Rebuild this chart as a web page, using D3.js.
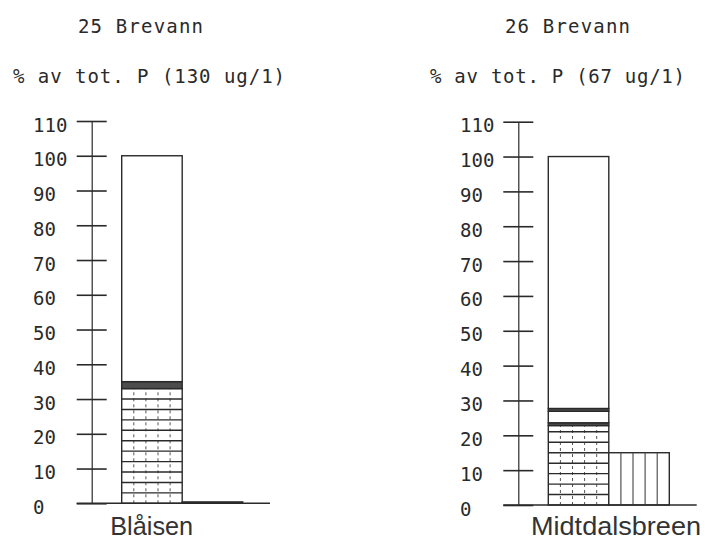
<!DOCTYPE html>
<html><head><meta charset="utf-8">
<script src="https://cdn.jsdelivr.net/npm/d3@7"></script>
<style>
html,body{margin:0;padding:0;background:#fff;}
svg{display:block;}
.plot{font-family:"DejaVu Sans Mono",monospace;fill:#2a2a2a;}
</style></head>
<body>
<svg id="chart" width="705" height="542"></svg>
<script>
// ---- data ----
const categories = ["Blåisen", "Midtdalsbreen"];
const titles = ["25 Brevann", "26 Brevann"];
const subtitles = ["% av tot. P (130 ug/1)", "% av tot. P (67 ug/1)"];
const tickValues = [0, 10, 20, 30, 40, 50, 60, 70, 80, 90, 100, 110];
const tickLabels = ["0", "10", "20", "30", "40", "50", "60", "70", "80", "90", "100", "110"];
const segmentKinds = ["rutet", "mørk", "tom", "mørk", "tom"];
const blaisenSegments = [33, 2, 0, 0, 65];
const midtdalSegments = [22.8, 0.8, 3.3, 0.8, 72.3];
const sideBarValues = [0.4, 15];
const gridStep = 3;

// ---- layout ----
const panels = [
  {axisX: 91.7, y0: 503.3, y110: 121, labelX: 33, titleX: 78, titleW: 125, subX: 13, subW: 272, catX: 151.7, catW: 83, segs: blaisenSegments, side: sideBarValues[0], baseEnd: 270},
  {axisX: 518.3, y0: 505, y110: 121.7, labelX: 460, titleX: 505, titleW: 125, subX: 430, subW: 255, catX: 616, catW: 170, segs: midtdalSegments, side: sideBarValues[1], baseEnd: 696.7}
];
const ink = "#2a2a2a";
const svg = d3.select("#chart");

panels.forEach((p, i) => {
  const y = d3.scaleLinear().domain([0, 110]).range([p.y0, p.y110]);
  const x = d3.scaleBand().domain(["stack", "side"]).range([p.axisX + 30, p.axisX + 30 + 121]).padding(0);
  const g = svg.append("g");
  const bw = x.bandwidth();

  // titles
  g.append("text").attr("class", "plot").attr("x", p.titleX).attr("y", 33)
    .attr("font-size", 19).attr("textLength", p.titleW).attr("lengthAdjust", "spacing").text(titles[i]);
  g.append("text").attr("class", "plot").attr("x", p.subX).attr("y", 83)
    .attr("font-size", 19).attr("textLength", p.subW).attr("lengthAdjust", "spacing").text(subtitles[i]);

  // axis
  const axis = d3.axisLeft(y).tickValues(tickValues).tickSize(0).tickFormat("");
  const ax = g.append("g").attr("transform", `translate(${p.axisX},0)`).call(axis);
  ax.select(".domain").attr("stroke", ink).attr("stroke-width", 1.2);
  ax.selectAll(".tick line").attr("x1", -15).attr("x2", 15).attr("stroke", ink).attr("stroke-width", 1.6);
  g.selectAll(".tlab").data(tickValues).join("text").attr("class", "plot")
    .attr("x", p.labelX).attr("y", d => y(d) + 10.5).attr("font-size", 19)
    .text((d, k) => tickLabels[k]);

  // stacked bar
  let acc = 0;
  const segs = p.segs.map((v, k) => { const s = {kind: segmentKinds[k], lo: acc, hi: acc + v}; acc += v; return s; }).filter(s => s.hi > s.lo);
  const sx = x("stack");
  segs.forEach(s => {
    g.append("rect").attr("x", sx).attr("y", y(s.hi)).attr("width", bw).attr("height", y(s.lo) - y(s.hi))
      .attr("fill", s.kind === "mørk" ? "#4d4d4d" : "#fff")
      .attr("stroke", ink).attr("stroke-width", 1.4);
    if (s.kind === "rutet") {
      // vertical dashed lines
      d3.range(1, 5).forEach(c => {
        g.append("line").attr("x1", sx + c * bw / 5).attr("x2", sx + c * bw / 5)
          .attr("y1", y(s.lo)).attr("y2", y(s.hi))
          .attr("stroke", "#555").attr("stroke-width", 1).attr("stroke-dasharray", "3,3");
      });
      d3.range(s.lo + gridStep, s.hi, gridStep).forEach(v => {
        g.append("line").attr("x1", sx).attr("x2", sx + bw).attr("y1", y(v)).attr("y2", y(v))
          .attr("stroke", ink).attr("stroke-width", 1.4);
      });
    }
  });

  // side bar
  const bx = x("side");
  g.append("rect").attr("x", bx).attr("y", y(p.side)).attr("width", bw).attr("height", y(0) - y(p.side))
    .attr("fill", "#fff").attr("stroke", ink).attr("stroke-width", 1.4);
  if (p.side > 2) {
    d3.range(1, 5).forEach(c => {
      g.append("line").attr("x1", bx + c * bw / 5).attr("x2", bx + c * bw / 5)
        .attr("y1", y(0)).attr("y2", y(p.side)).attr("stroke", "#444").attr("stroke-width", 1.1);
    });
  }

  // baseline
  g.append("line").attr("x1", p.axisX - 15).attr("x2", p.baseEnd).attr("y1", y(0)).attr("y2", y(0))
    .attr("stroke", ink).attr("stroke-width", 1.6);

  // category label
  g.append("text").attr("x", p.catX).attr("y", 535).attr("text-anchor", "middle")
    .attr("font-family", "'Liberation Sans', Arial, sans-serif").attr("font-size", 25)
    .attr("fill", "#333").attr("textLength", p.catW).attr("lengthAdjust", "spacingAndGlyphs")
    .text(categories[i]);
});
</script>
</body></html>
